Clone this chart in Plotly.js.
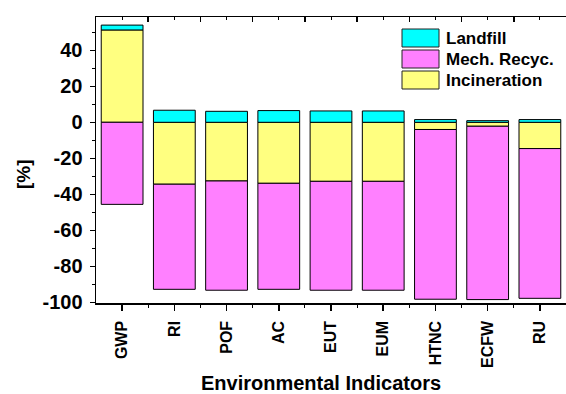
<!DOCTYPE html>
<html>
<head>
<meta charset="utf-8">
<script src="https://cdn.plot.ly/plotly-3.0.1.min.js"></script>
<style>html,body{margin:0;padding:0;overflow:hidden;background:#fff}</style>
</head>
<body>
<div id="chart" style="width:566px;height:394px"></div>
<script>
// ---- data ----
var categories = ['GWP', 'RI', 'POF', 'AC', 'EUT', 'EUM', 'HTNC', 'ECFW', 'RU'];
var incineration = [51.3, -34.4, -32.6, -33.9, -32.8, -32.8, -4.0, -2.2, -14.6];
var mechRecyc    = [-45.6, -58.4, -60.7, -58.9, -60.5, -60.5, -94.3, -96.3, -83.2];
var landfill     = [2.7, 6.7, 6.1, 6.5, 6.3, 6.3, 1.5, 0.9, 1.5];
var seriesNames = ['Landfill', 'Mech. Recyc.', 'Incineration'];
var seriesColors = ['#00FFFF', '#FF80FF', '#FFFF80'];
var yTickVals = [-100, -80, -60, -40, -20, 0, 20, 40];
var yTickText = ['-100', '-80', '-60', '-40', '-20', '0', '20', '40'];
var yTitle = '[%]';
var xTitle = 'Environmental Indicators';

// ---- layout geometry ----
var W = 566, H = 394;
var L = 96, R = 0, T = 17, B = 91;
var pw = W - L - R, ph = H - T - B;
function px(x) { return (x - L) / pw; }
function py(y) { return 1 - (y - T) / ph; }

var idx = categories.map(function (_, i) { return i; });
var bounds = categories.slice(0, -1).map(function (_, i) { return i + 0.5; });
var FONT = 'Arial, "Liberation Sans", sans-serif';

function barTrace(name, vals, color) {
  return {
    type: 'bar', name: name, x: idx, y: vals,
    marker: { color: color, line: { color: '#000', width: 1 } },
    showlegend: false, hoverinfo: 'skip'
  };
}

var data = [
  barTrace(seriesNames[2], incineration, seriesColors[2]),
  barTrace(seriesNames[1], mechRecyc, seriesColors[1]),
  barTrace(seriesNames[0], landfill, seriesColors[0]),
  { type: 'scatter', x: [], y: [], xaxis: 'x2', showlegend: false, hoverinfo: 'skip' }
];

var shapes = [], annotations = [];
// custom legend
var legRows = [
  { name: seriesNames[0], color: seriesColors[0], y0: 29, y1: 47 },
  { name: seriesNames[1], color: seriesColors[1], y0: 50, y1: 68 },
  { name: seriesNames[2], color: seriesColors[2], y0: 71, y1: 89 }
];
legRows.forEach(function (r) {
  shapes.push({ type: 'rect', xref: 'paper', yref: 'paper',
    x0: px(402), x1: px(439), y0: py(r.y1), y1: py(r.y0),
    fillcolor: r.color, line: { color: '#222', width: 1 } });
  annotations.push({ xref: 'paper', yref: 'paper', x: px(444), y: py((r.y0 + r.y1) / 2),
    xanchor: 'left', yanchor: 'middle', showarrow: false, text: r.name,
    font: { family: FONT, size: 17, color: '#000', weight: 'bold' } });
});
// axis titles
annotations.push({ xref: 'paper', yref: 'paper', x: px(23), y: py(174),
  xanchor: 'center', yanchor: 'middle', showarrow: false, textangle: -90, text: yTitle,
  font: { family: FONT, size: 19, color: '#000', weight: 'bold' } });
annotations.push({ xref: 'paper', yref: 'paper', x: px(321), y: py(383),
  xanchor: 'center', yanchor: 'middle', showarrow: false, text: xTitle,
  font: { family: FONT, size: 20, color: '#000', weight: 'bold' } });

var layout = {
  width: W, height: H,
  margin: { l: L, r: R, t: T, b: B, pad: 0 },
  paper_bgcolor: '#fff', plot_bgcolor: '#fff',
  barmode: 'relative', bargap: 0.2,
  showlegend: false,
  xaxis: {
    type: 'linear', range: [-0.5, categories.length - 0.5],
    tickmode: 'array', tickvals: idx, ticktext: categories,
    tickangle: -90, ticks: 'outside', ticklen: 6, tickwidth: 1.5, tickcolor: '#000',
    ticklabelstandoff: 4,
    tickfont: { family: FONT, size: 16, color: '#000', weight: 'bold' },
    minor: { tickvals: bounds, ticks: 'outside', ticklen: 3, tickwidth: 1, tickcolor: '#000', showgrid: false },
    showline: true, linecolor: '#000', linewidth: 1.5,
    showgrid: false, zeroline: false, fixedrange: true
  },
  xaxis2: {
    type: 'linear', overlaying: 'x', side: 'top', anchor: 'y',
    range: [-0.5, categories.length - 0.5],
    tickmode: 'array', tickvals: bounds, showticklabels: false,
    ticks: 'inside', ticklen: 5, tickwidth: 1.5, tickcolor: '#000',
    minor: { tickvals: idx, ticks: 'inside', ticklen: 3, tickwidth: 1, tickcolor: '#000', showgrid: false },
    showline: true, linecolor: '#000', linewidth: 1.5,
    showgrid: false, zeroline: false
  },
  yaxis: {
    range: [-100.4, 58.5],
    tickmode: 'array', tickvals: yTickVals, ticktext: yTickText,
    ticks: 'outside', ticklen: 5, tickwidth: 1.5, tickcolor: '#000',
    ticklabelstandoff: 3,
    tickfont: { family: FONT, size: 20, color: '#000', weight: 'bold' },
    minor: { dtick: 10, tick0: 0, ticks: 'outside', ticklen: 3, tickwidth: 1, tickcolor: '#000', showgrid: false },
    showline: true, linecolor: '#000', linewidth: 1.5,
    showgrid: false, zeroline: false
  },
  shapes: shapes,
  annotations: annotations
};

Plotly.newPlot('chart', data, layout, { staticPlot: true, displayModeBar: false });
</script>
</body>
</html>
